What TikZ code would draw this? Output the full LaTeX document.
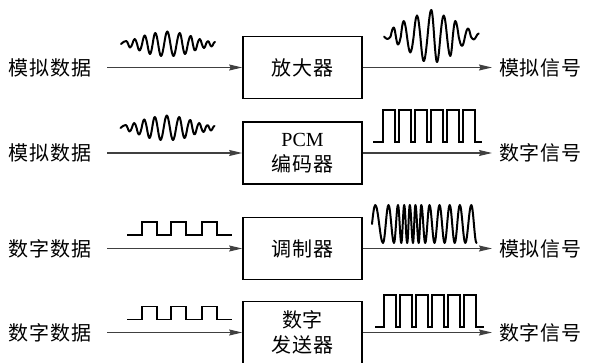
\documentclass[tikz,border=0pt]{standalone}
\usepackage{fontspec}
\setmainfont{Liberation Serif}
\newfontfamily\cjk{Noto Sans CJK SC}[LetterSpace=4]
\usetikzlibrary{arrows.meta}
\tikzset{
  blk/.style={draw=black, line width=1.7pt, minimum width=119pt, minimum height=62pt, inner sep=0pt, align=center, font=\fontsize{20}{25}\selectfont\cjk},
  lab/.style={font=\fontsize{20}{24}\selectfont\cjk, inner ysep=0pt},
  conn/.style={draw=black!75, line width=1.1pt, -{Stealth[length=13pt,width=6pt,inset=1.5pt]}},
  wave/.style={draw=black, line width=2pt, line join=round, line cap=round},
  pulse/.style={draw=black, line width=1.7pt, line join=miter},
  inwave/.pic={
    \draw[wave] (121,44) sin (126.3,41) cos (128.15,44) sin (130,47.5) cos (132.35,44) sin (134.7,39) cos (137.1,44) sin (139.5,50.5) cos (142.1,44) sin (144.7,35.5) cos (147.35,44) sin (150,54) cos (152.65,44) sin (155.3,33) cos (158.15,44) sin (161,56) cos (164.15,44) sin (167.3,31.5) cos (170.4,44) sin (173.5,56) cos (176.6,44) sin (179.7,33) cos (182.35,44) sin (185,54) cos (187.85,44) sin (190.7,36) cos (192.85,44) sin (195,50.5) cos (197.35,44) sin (199.7,39) cos (201.85,44) sin (204,48) cos (206,44) sin (208,41) cos (209.75,44) sin (211.5,46.5) cos (213.25,44) sin (215,42);
  },
}
\begin{document}
\begin{tikzpicture}[x=1pt,y=-1pt]
\useasboundingbox (0,0) rectangle (594,363);
% boxes
\node[blk] (b1) at (302.5,67.5) {放大器};
\node[blk] (b2) at (302.5,153) {{\rmfamily PCM}\\编码器};
\node[blk] (b3) at (302.5,248.5) {调制器};
\node[blk] (b4) at (302.5,332.5) {数字\\发送器};
% left labels
\node[lab, inner xsep=16pt] (l1) at (50,67.5) {模拟数据};
\node[lab, inner xsep=16pt] (l2) at (50,153) {模拟数据};
\node[lab, inner xsep=16pt] (l3) at (50,248.5) {数字数据};
\node[lab, inner xsep=16pt] (l4) at (50,332.5) {数字数据};
% right labels
\node[lab, inner xsep=7pt, anchor=west] (r1) at (492,67.5) {模拟信号};
\node[lab, inner xsep=7pt, anchor=west] (r2) at (492,153) {数字信号};
\node[lab, inner xsep=7pt, anchor=west] (r3) at (492,248.5) {模拟信号};
\node[lab, inner xsep=7pt, anchor=west] (r4) at (492,332.5) {数字信号};
% connectors
\foreach \i in {1,2,3,4}{
  \draw[conn] (l\i.east) -- (b\i.west);
  \draw[conn] (b\i.east) -- (r\i.west);
}
% row 1 and row 2 input waves
\pic at (0,0) {inwave};
\pic at (-0.5,84) {inwave};
% row 1 output wave (amplified)
\draw[wave] (384,36.5) sin (387.5,39) cos (390.6,36.5) sin (393.7,27.5) cos (395.85,36.5) sin (398,44.5) cos (400.85,36.5) sin (403.7,21) cos (407,36.5) sin (410.3,52.5) cos (413.65,36.5) sin (417,15.5) cos (420.35,36.5) sin (423.7,61) cos (427.5,36.5) sin (431.3,10) cos (434.15,36.5) sin (437,62) cos (440.35,36.5) sin (443.7,15.5) cos (447,36.5) sin (450.3,56) cos (452.8,36.5) sin (455.3,21) cos (458.65,36.5) sin (462,46) cos (465,36.5) sin (468,28.5) cos (470.85,36.5) sin (473.7,39.5) cos (476.2,36.5) sin (478.7,33.5);
% row 2 output pulses
\draw[pulse] (373,142) -- (383,142)
  \foreach \s in {383,399,415,431,447,463}{ -- (\s,142) -- (\s,110) -- ({\s+12},110) -- ({\s+12},142) }
  -- (482,142);
% row 3 input pulses
\draw[pulse] (127,235)
  \foreach \s in {142,171,202}{ -- (\s,235) -- (\s,222) -- ({\s+15},222) -- ({\s+15},235) }
  -- (232,235);
% row 3 output FM wave
\draw[wave] (372,224) sin (375.3,205) cos (379.15,224) sin (383,243) cos (385.75,224) sin (388.5,205) cos (391.25,224) sin (394,243) cos (396,224) sin (398,205) cos (399.65,224) sin (401.3,243) cos (402.75,224) sin (404.2,205) cos (405.7,224) sin (407.2,243) cos (408.5,224) sin (409.8,205) cos (411.4,224) sin (413,243) cos (414.2,224) sin (415.4,205) cos (417.05,224) sin (418.7,243) cos (420,224) sin (421.3,205) cos (423.25,224) sin (425.2,243) cos (427.35,224) sin (429.5,205) cos (432,224) sin (434.5,243) cos (437,224) sin (439.5,205) cos (442.05,224) sin (444.6,243) cos (447.15,224) sin (449.7,205) cos (452.2,224) sin (454.7,243) cos (457.25,224) sin (459.8,205) cos (462.55,224) sin (465.3,243) cos (468.3,224) sin (471.3,205) cos (473.9,224) sin (476.5,243);
% row 4 input pulses
\draw[pulse] (127,319.5)
  \foreach \s in {142,171,202}{ -- (\s,319.5) -- (\s,306.5) -- ({\s+15},306.5) -- ({\s+15},319.5) }
  -- (232,319.5);
% row 4 output pulses
\draw[pulse] (375,327)
  \foreach \s in {384,400,416,432,448,464}{ -- (\s,327) -- (\s,295) -- ({\s+12},295) -- ({\s+12},327) }
  -- (484,327);
\end{tikzpicture}
\end{document}
